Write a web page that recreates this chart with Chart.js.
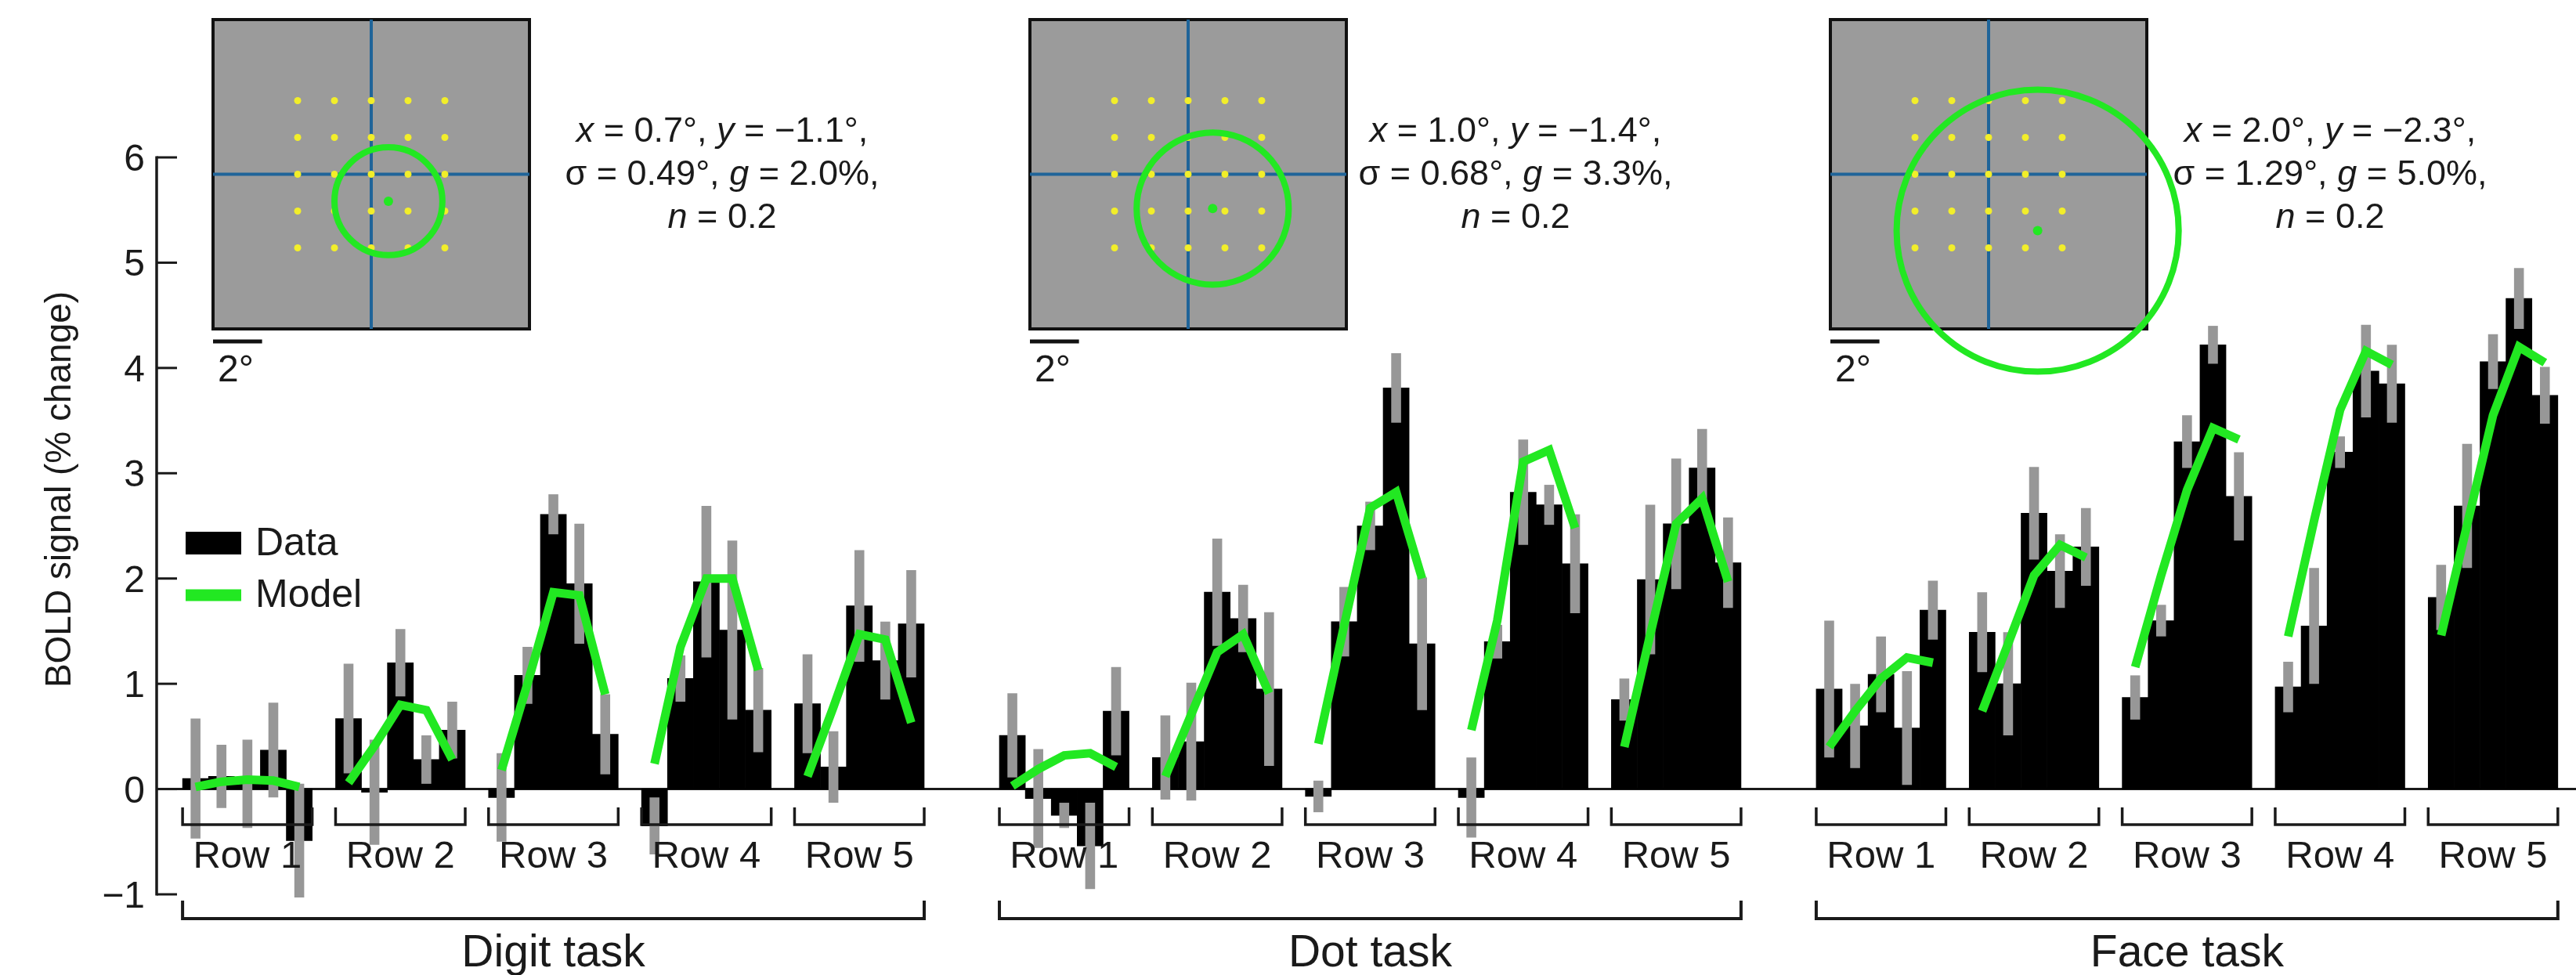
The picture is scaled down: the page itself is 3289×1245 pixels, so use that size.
<!DOCTYPE html>
<html>
<head>
<meta charset="utf-8">
<script src="https://cdn.jsdelivr.net/npm/chart.js@4.4.1/dist/chart.umd.min.js"></script>
<style>
html,body{margin:0;padding:0;background:#fff;}
#wrap{position:relative;width:3289px;height:1245px;overflow:hidden;background:#fff;}
#main{position:absolute;left:0;top:0;}
</style>
</head>
<body>
<div id="wrap"><canvas id="main" width="3289" height="1245"></canvas></div>
<script>
// ---------------- DATA ----------------
const tasks = ['Digit task', 'Dot task', 'Face task'];
const rows = ['Row 1', 'Row 2', 'Row 3', 'Row 4', 'Row 5'];
const yTicks = [6, 5, 4, 3, 2, 1, 0, -1];
const yTitle = 'BOLD signal (% change)';
const legendLabels = ['Data', 'Model'];

// 25 values per task: Row 1 (columns 1-5), Row 2, ... Row 5
const digitData  = [0.10, 0.12, 0.05, 0.37, -0.49,  0.67, -0.03, 1.20, 0.28, 0.56,  -0.08, 1.08, 2.61, 1.95, 0.52,  -0.35, 1.05, 1.97, 1.51, 0.75,  0.81, 0.21, 1.74, 1.22, 1.57];
const digitErr   = [0.57, 0.30, 0.42, 0.45, 0.54,   0.52, 0.50, 0.32, 0.23, 0.27,   0.42, 0.27, 0.19, 0.57, 0.38,   0.27, 0.22, 0.72, 0.85, 0.40,  0.47, 0.34, 0.53, 0.37, 0.51];
const digitModel = [0.02, 0.07, 0.09, 0.08, 0.02,   0.06, 0.41, 0.80, 0.75, 0.28,   0.18, 1.00, 1.87, 1.84, 0.90,   0.24, 1.35, 2.00, 2.00, 1.13,  0.12, 0.78, 1.47, 1.42, 0.63];

const dotData  = [0.51, -0.09, -0.25, -0.54, 0.74,  0.30, 0.45, 1.87, 1.62, 0.95,  -0.07, 1.59, 2.50, 3.81, 1.38,  -0.08, 1.40, 2.82, 2.70, 2.14,  0.85, 1.99, 2.52, 3.05, 2.15];
const dotErr   = [0.40, 0.47, 0.12, 0.41, 0.42,     0.40, 0.56, 0.51, 0.32, 0.73,   0.15, 0.33, 0.23, 0.33, 0.63,   0.38, 0.16, 0.50, 0.19, 0.47,  0.20, 0.71, 0.62, 0.37, 0.43];
const dotModel = [0.03, 0.19, 0.32, 0.34, 0.21,     0.12, 0.71, 1.30, 1.47, 0.91,   0.43, 1.56, 2.67, 2.82, 2.00,   0.56, 1.60, 3.11, 3.22, 2.48,  0.40, 1.47, 2.52, 2.76, 1.97];

const faceData  = [0.95, 0.60, 1.09, 0.58, 1.70,  1.49, 1.00, 2.62, 2.07, 2.30,  0.87, 1.60, 3.30, 4.22, 2.78,  0.97, 1.55, 3.20, 3.97, 3.85,  1.82, 2.69, 4.06, 4.66, 3.74];
const faceErr   = [0.65, 0.40, 0.36, 0.54, 0.28,  0.38, 0.49, 0.44, 0.35, 0.37,  0.21, 0.15, 0.25, 0.18, 0.42,  0.24, 0.55, 0.15, 0.44, 0.37,  0.31, 0.59, 0.26, 0.29, 0.27];
const faceModel = [0.40, 0.74, 1.05, 1.25, 1.20,  0.74, 1.38, 2.03, 2.32, 2.20,  1.16, 2.03, 2.84, 3.43, 3.32,  1.45, 2.55, 3.60, 4.16, 4.03,  1.46, 2.51, 3.55, 4.20, 4.05];

// pRF inset parameters (degrees / %)
const prfX = [0.7, 1.0, 2.0];
const prfY = [-1.1, -1.4, -2.3];
const prfSigma = [0.49, 0.68, 1.29];
const prfGain = [2.0, 3.3, 5.0];
const prfN = [0.2, 0.2, 0.2];
const prfCircleR = [2.2, 3.1, 5.75];      // drawn circle radius (deg)
const stimPos = [-3, -1.5, 0, 1.5, 3];    // stimulus grid positions (deg)
const scaleBarDeg = 2;

// ---------------- LAYOUT / STYLE ----------------
const FONT = '"Liberation Sans", Arial, Helvetica, sans-serif';
const GREEN = 'rgb(34,232,34)';
const GRAY = '#979797';
const BLUE = '#1f6499';
const YELLOW = '#f2ee2a';
const INK = '#1a1a1a';
const ROW_STEP = 5.9, TASK_STEP = 31.5;
const pos = (t, r, i) => t * TASK_STEP + r * ROW_STEP + i;

const allData = [digitData, dotData, faceData];
const allErr = [digitErr, dotErr, faceErr];
const allModel = [digitModel, dotModel, faceModel];

const dataPts = [], errPts = [], modelPts = [];
tasks.forEach((_, t) => rows.forEach((_, r) => {
  for (let i = 0; i < 5; i++) {
    const k = r * 5 + i, v = allData[t][k], e = allErr[t][k];
    dataPts.push({x: pos(t, r, i), y: v});
    errPts.push({x: pos(t, r, i), y: [v - e, v + e]});
    modelPts.push({x: pos(t, r, i), y: allModel[t][k]});
  }
  modelPts.push({x: pos(t, r, 4) + 0.5, y: null});
}));

function richLine(ctx, segs, cx, base, size) {
  let w = 0;
  segs.forEach(([s, it]) => { ctx.font = `${it ? 'italic ' : ''}${size}px ${FONT}`; w += ctx.measureText(s).width; });
  let xx = cx - w / 2;
  ctx.textAlign = 'left';
  segs.forEach(([s, it]) => { ctx.font = `${it ? 'italic ' : ''}${size}px ${FONT}`; ctx.fillText(s, xx, base); xx += ctx.measureText(s).width; });
}
const fmtSigned = v => (v < 0 ? '\u2212' : '') + Math.abs(v).toFixed(1);
const paramCenters = [922, 1935, 2975];

const decor = {
  id: 'decor',
  beforeDatasetsDraw(chart) {
    const {ctx, chartArea: a, scales: {y}} = chart;
    const y0 = y.getPixelForValue(0);
    ctx.save();
    ctx.strokeStyle = INK; ctx.lineWidth = 3;
    ctx.beginPath(); ctx.moveTo(a.left, y0); ctx.lineTo(a.right, y0); ctx.stroke();
    ctx.restore();
  },
  afterDraw(chart) {
    const {ctx, chartArea: a, scales: {x, y}} = chart;
    ctx.save();
    ctx.strokeStyle = INK; ctx.fillStyle = INK;
    // y axis (ticks pointing inward)
    ctx.lineWidth = 3.5;
    ctx.beginPath();
    ctx.moveTo(a.left, y.getPixelForValue(Math.max(...yTicks)) - 1.5);
    ctx.lineTo(a.left, y.getPixelForValue(Math.min(...yTicks)) + 1.5);
    ctx.stroke();
    ctx.lineWidth = 3;
    ctx.font = `48px ${FONT}`; ctx.textAlign = 'right'; ctx.textBaseline = 'alphabetic';
    yTicks.forEach(t => {
      const py = y.getPixelForValue(t);
      ctx.beginPath(); ctx.moveTo(a.left, py); ctx.lineTo(a.left + 26, py); ctx.stroke();
      ctx.fillText(t < 0 ? '\u2212' + Math.abs(t) : String(t), a.left - 15, py + 17);
    });
    // y title
    ctx.save();
    ctx.translate(90, 625); ctx.rotate(-Math.PI / 2);
    ctx.textAlign = 'center'; ctx.font = `46px ${FONT}`;
    ctx.fillText(yTitle, 0, 0);
    ctx.restore();
    // row & task brackets
    tasks.forEach((tn, t) => {
      rows.forEach((rn, r) => {
        const l = x.getPixelForValue(pos(t, r, 0) - 0.5), rr = x.getPixelForValue(pos(t, r, 4) + 0.5);
        ctx.lineWidth = 3.5;
        ctx.beginPath(); ctx.moveTo(l, 1031); ctx.lineTo(l, 1053); ctx.lineTo(rr, 1053); ctx.lineTo(rr, 1031); ctx.stroke();
        ctx.font = `49px ${FONT}`; ctx.textAlign = 'center';
        ctx.fillText(rn, (l + rr) / 2, 1108);
      });
      const l = x.getPixelForValue(pos(t, 0, 0) - 0.5), rr = x.getPixelForValue(pos(t, 4, 4) + 0.5);
      ctx.lineWidth = 4;
      ctx.beginPath(); ctx.moveTo(l, 1150); ctx.lineTo(l, 1173); ctx.lineTo(rr, 1173); ctx.lineTo(rr, 1150); ctx.stroke();
      ctx.font = `57px ${FONT}`; ctx.textAlign = 'center';
      ctx.fillText(tn, (l + rr) / 2, 1234);
    });
    // legend
    ctx.fillStyle = '#000';
    ctx.fillRect(237, 679, 71, 29);
    ctx.strokeStyle = GREEN; ctx.lineWidth = 15;
    ctx.beginPath(); ctx.moveTo(237, 760); ctx.lineTo(308, 760); ctx.stroke();
    ctx.fillStyle = INK; ctx.font = `50px ${FONT}`; ctx.textAlign = 'left';
    ctx.fillText(legendLabels[0], 326, 709);
    ctx.fillText(legendLabels[1], 326, 775);
    // pRF parameter text
    prfX.forEach((px, i) => {
      const cx = paramCenters[i], S = 45;
      richLine(ctx, [['x', 1], [' = ' + fmtSigned(px) + '\u00b0, ', 0], ['y', 1], [' = ' + fmtSigned(prfY[i]) + '\u00b0,', 0]], cx, 181, S);
      richLine(ctx, [['\u03c3 = ' + prfSigma[i].toFixed(2) + '\u00b0, ', 0], ['g', 1], [' = ' + prfGain[i].toFixed(1) + '%,', 0]], cx, 236, S);
      richLine(ctx, [['n', 1], [' = ' + prfN[i].toFixed(1), 0]], cx, 291, S);
    });
    ctx.restore();
  }
};

new Chart(document.getElementById('main'), {
  type: 'bar',
  data: {
    datasets: [
      {type: 'line', label: legendLabels[1], data: modelPts, borderColor: GREEN, borderWidth: 11,
       pointRadius: 0, spanGaps: false, tension: 0, order: 0, clip: false,
       borderCapStyle: 'butt', borderJoinStyle: 'miter'},
      {label: 'SEM', data: errPts, backgroundColor: GRAY, borderWidth: 0,
       barPercentage: 0.38, categoryPercentage: 1, grouped: false, order: 1, clip: false},
      {label: legendLabels[0], data: dataPts, backgroundColor: '#000', borderWidth: 0,
       barPercentage: 1, categoryPercentage: 1, grouped: false, order: 2, clip: false}
    ]
  },
  options: {
    responsive: false, animation: false, devicePixelRatio: 1,
    layout: {padding: {left: 200, right: 0, top: 201, bottom: 103}},
    plugins: {legend: {display: false}, tooltip: {enabled: false}},
    scales: {
      x: {type: 'linear', min: -1.5, max: 91.8, offset: false, display: false, ticks: {maxTicksLimit: 4}, grid: {offset: false}},
      y: {min: -1, max: 6, display: false}
    }
  },
  plugins: [decor]
});

// ---------------- INSETS ----------------
const BOXES = [{l: 272, t: 25}, {l: 1315, t: 25}, {l: 2337, t: 25}];
const BW = 404, BH = 395;
const XR = 6.45, YR = 6.45 * BH / BW;
const PAD = {left: 20, right: 110, top: 25, bottom: 110};

const insetDecor = {
  id: 'insetDecor',
  beforeDatasetsDraw(chart) {
    const {ctx, chartArea: a} = chart;
    ctx.save();
    ctx.fillStyle = '#9b9b9b';
    ctx.fillRect(a.left, a.top, a.right - a.left, a.bottom - a.top);
    ctx.strokeStyle = '#111'; ctx.lineWidth = 4;
    ctx.strokeRect(a.left, a.top, a.right - a.left, a.bottom - a.top);
    ctx.restore();
  },
  afterDraw(chart) {
    const {ctx, chartArea: a, scales: {x}} = chart;
    ctx.save();
    const x0 = x.getPixelForValue(-XR), x1 = x.getPixelForValue(-XR + scaleBarDeg);
    ctx.strokeStyle = '#111'; ctx.lineWidth = 5;
    ctx.beginPath(); ctx.moveTo(x0, a.bottom + 16); ctx.lineTo(x1, a.bottom + 16); ctx.stroke();
    ctx.fillStyle = INK; ctx.font = `48px ${FONT}`; ctx.textAlign = 'left';
    ctx.fillText(scaleBarDeg + '\u00b0', x0 + 6, a.bottom + 67);
    ctx.restore();
  }
};

BOXES.forEach((b, i) => {
  const c = document.createElement('canvas');
  const W = BW + PAD.left + PAD.right, H = BH + PAD.top + PAD.bottom;
  c.width = W; c.height = H;
  c.style.cssText = `position:absolute;left:${b.l - PAD.left}px;top:${b.t - PAD.top}px;width:${W}px;height:${H}px;`;
  document.getElementById('wrap').appendChild(c);
  const stim = [];
  stimPos.forEach(sy => stimPos.forEach(sx => stim.push({x: sx, y: sy})));
  new Chart(c, {
    type: 'scatter',
    data: {
      datasets: [
        {data: [{x: prfX[i], y: prfY[i]}], order: 0, clip: false,
         pointRadius: ctx => Math.abs(ctx.chart.scales.x.getPixelForValue(prfX[i] + prfCircleR[i]) - ctx.chart.scales.x.getPixelForValue(prfX[i])),
         backgroundColor: 'rgba(0,0,0,0)', borderColor: GREEN, borderWidth: 8},
        {data: [{x: prfX[i], y: prfY[i]}], order: 1, pointRadius: 6, backgroundColor: GREEN, borderWidth: 0},
        {data: stim, order: 2, pointRadius: 4.5, backgroundColor: YELLOW, borderWidth: 0},
        {type: 'line', data: [{x: -XR, y: 0}, {x: XR, y: 0}], order: 3, borderColor: BLUE, borderWidth: 4, pointRadius: 0},
        {type: 'line', data: [{x: 0, y: -YR}, {x: 0, y: YR}], order: 3, borderColor: BLUE, borderWidth: 4, pointRadius: 0}
      ]
    },
    options: {
      responsive: false, animation: false, devicePixelRatio: 1,
      layout: {padding: PAD},
      plugins: {legend: {display: false}, tooltip: {enabled: false}},
      events: [],
      scales: {
        x: {type: 'linear', min: -XR, max: XR, display: false},
        y: {type: 'linear', min: -YR, max: YR, display: false}
      }
    },
    plugins: [insetDecor]
  });
});
</script>
</body>
</html>
